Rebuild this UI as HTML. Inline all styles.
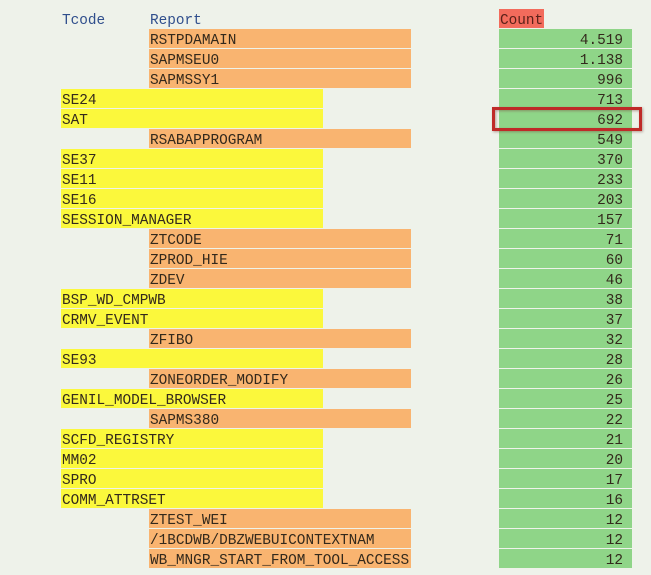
<!DOCTYPE html>
<html><head><meta charset="utf-8"><style>
html,body{margin:0;padding:0;background:#eef2ea;}
svg{display:block;}
text{font-family:"Liberation Mono","Courier New",monospace;font-size:14.4px;fill:#33291c;}
</style></head><body>
<svg width="651" height="575" viewBox="0 0 651 575" xmlns="http://www.w3.org/2000/svg">
<rect width="651" height="575" fill="#eef2ea"/>
<defs><filter id="sh" x="-10%" y="-30%" width="120%" height="160%"><feGaussianBlur stdDeviation="1.2"/></filter></defs>
<text x="62" y="24" style="fill:#2f4e8c">Tcode</text>
<text x="150" y="24" style="fill:#2f4e8c">Report</text>
<rect x="499" y="9" width="45" height="19" fill="#f26b5c"/>
<text x="500" y="24" style="fill:#5a2119">Count</text>
<g id="rows">
<rect x="149" y="29" width="262" height="19" fill="#f9b470"/><text x="150" y="44">RSTPDAMAIN</text>
<rect x="149" y="49" width="262" height="19" fill="#f9b470"/><text x="150" y="64">SAPMSEU0</text>
<rect x="149" y="69" width="262" height="19" fill="#f9b470"/><text x="150" y="84">SAPMSSY1</text>
<rect x="61" y="89" width="262" height="19" fill="#fbf83c"/><text x="62" y="104">SE24</text>
<rect x="61" y="109" width="262" height="19" fill="#fbf83c"/><text x="62" y="124">SAT</text>
<rect x="149" y="129" width="262" height="19" fill="#f9b470"/><text x="150" y="144">RSABAPPROGRAM</text>
<rect x="61" y="149" width="262" height="19" fill="#fbf83c"/><text x="62" y="164">SE37</text>
<rect x="61" y="169" width="262" height="19" fill="#fbf83c"/><text x="62" y="184">SE11</text>
<rect x="61" y="189" width="262" height="19" fill="#fbf83c"/><text x="62" y="204">SE16</text>
<rect x="61" y="209" width="262" height="19" fill="#fbf83c"/><text x="62" y="224">SESSION_MANAGER</text>
<rect x="149" y="229" width="262" height="19" fill="#f9b470"/><text x="150" y="244">ZTCODE</text>
<rect x="149" y="249" width="262" height="19" fill="#f9b470"/><text x="150" y="264">ZPROD_HIE</text>
<rect x="149" y="269" width="262" height="19" fill="#f9b470"/><text x="150" y="284">ZDEV</text>
<rect x="61" y="289" width="262" height="19" fill="#fbf83c"/><text x="62" y="304">BSP_WD_CMPWB</text>
<rect x="61" y="309" width="262" height="19" fill="#fbf83c"/><text x="62" y="324">CRMV_EVENT</text>
<rect x="149" y="329" width="262" height="19" fill="#f9b470"/><text x="150" y="344">ZFIBO</text>
<rect x="61" y="349" width="262" height="19" fill="#fbf83c"/><text x="62" y="364">SE93</text>
<rect x="149" y="369" width="262" height="19" fill="#f9b470"/><text x="150" y="384">ZONEORDER_MODIFY</text>
<rect x="61" y="389" width="262" height="19" fill="#fbf83c"/><text x="62" y="404">GENIL_MODEL_BROWSER</text>
<rect x="149" y="409" width="262" height="19" fill="#f9b470"/><text x="150" y="424">SAPMS380</text>
<rect x="61" y="429" width="262" height="19" fill="#fbf83c"/><text x="62" y="444">SCFD_REGISTRY</text>
<rect x="61" y="449" width="262" height="19" fill="#fbf83c"/><text x="62" y="464">MM02</text>
<rect x="61" y="469" width="262" height="19" fill="#fbf83c"/><text x="62" y="484">SPRO</text>
<rect x="61" y="489" width="262" height="19" fill="#fbf83c"/><text x="62" y="504">COMM_ATTRSET</text>
<rect x="149" y="509" width="262" height="19" fill="#f9b470"/><text x="150" y="524">ZTEST_WEI</text>
<rect x="149" y="529" width="262" height="19" fill="#f9b470"/><text x="150" y="544">/1BCDWB/DBZWEBUICONTEXTNAM</text>
<rect x="149" y="549" width="262" height="19" fill="#f9b470"/><text x="150" y="564">WB_MNGR_START_FROM_TOOL_ACCESS</text>
</g>
<g fill="#8fd588">
<rect x="499" y="29" width="133" height="19"/><rect x="499" y="49" width="133" height="19"/><rect x="499" y="69" width="133" height="19"/>
<rect x="499" y="89" width="133" height="19"/><rect x="499" y="109" width="133" height="19"/><rect x="499" y="129" width="133" height="19"/>
<rect x="499" y="149" width="133" height="19"/><rect x="499" y="169" width="133" height="19"/><rect x="499" y="189" width="133" height="19"/>
<rect x="499" y="209" width="133" height="19"/><rect x="499" y="229" width="133" height="19"/><rect x="499" y="249" width="133" height="19"/>
<rect x="499" y="269" width="133" height="19"/><rect x="499" y="289" width="133" height="19"/><rect x="499" y="309" width="133" height="19"/>
<rect x="499" y="329" width="133" height="19"/><rect x="499" y="349" width="133" height="19"/><rect x="499" y="369" width="133" height="19"/>
<rect x="499" y="389" width="133" height="19"/><rect x="499" y="409" width="133" height="19"/><rect x="499" y="429" width="133" height="19"/>
<rect x="499" y="449" width="133" height="19"/><rect x="499" y="469" width="133" height="19"/><rect x="499" y="489" width="133" height="19"/>
<rect x="499" y="509" width="133" height="19"/><rect x="499" y="529" width="133" height="19"/><rect x="499" y="549" width="133" height="19"/>
</g>
<g text-anchor="end">
<text x="623" y="44">4.519</text><text x="623" y="64">1.138</text><text x="623" y="84">996</text>
<text x="623" y="104">713</text><text x="623" y="124">692</text><text x="623" y="144">549</text>
<text x="623" y="164">370</text><text x="623" y="184">233</text><text x="623" y="204">203</text>
<text x="623" y="224">157</text><text x="623" y="244">71</text><text x="623" y="264">60</text>
<text x="623" y="284">46</text><text x="623" y="304">38</text><text x="623" y="324">37</text>
<text x="623" y="344">32</text><text x="623" y="364">28</text><text x="623" y="384">26</text>
<text x="623" y="404">25</text><text x="623" y="424">22</text><text x="623" y="444">21</text>
<text x="623" y="464">20</text><text x="623" y="484">17</text><text x="623" y="504">16</text>
<text x="623" y="524">12</text><text x="623" y="544">12</text><text x="623" y="564">12</text>
</g>
<rect x="494.5" y="109.5" width="147" height="21" fill="none" stroke="#7a4a40" stroke-width="3" opacity="0.5" filter="url(#sh)"/>
<rect x="493.5" y="108.5" width="147" height="21" fill="none" stroke="#bf2a28" stroke-width="3"/>
</svg>
</body></html>
